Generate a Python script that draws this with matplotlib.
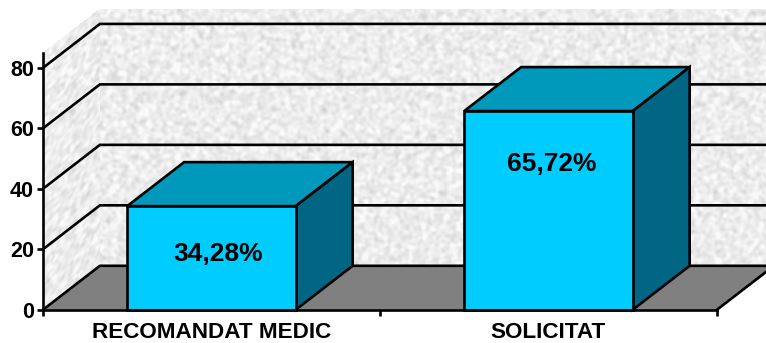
import numpy as np
import matplotlib
matplotlib.use("Agg")
import matplotlib.pyplot as plt
from matplotlib.patches import Polygon

categories = ["RECOMANDAT MEDIC", "SOLICITAT"]
values = [34.28, 65.72]
value_labels = ["34,28%", "65,72%"]
y_ticks = [0, 20, 40, 60, 80]

W, H = 766, 343
L, R, B, T = 42.9, 716.9, 309.8, 52.8
YMAX = 85
plt.rcParams["font.family"] = ["Liberation Sans", "DejaVu Sans"]

fig = plt.figure(figsize=(W / 100, H / 100), dpi=100, facecolor="white")
ax = fig.add_axes([L / W, 1 - B / H, (R - L) / W, (B - T) / H])
ax.set_xlim(0, 2)
ax.set_ylim(0, YMAX)
ax.patch.set_visible(False)

# oblique depth of the pseudo-3D box, in data units
px_x = 2 / (R - L)
px_y = YMAX / (B - T)
DX, DY = 57 * px_x, 44 * px_y
XEND = 2 + 60 * px_x
LW = 1.9
EC = "black"

# mottled wall texture (decoration only, not data)
def texture(h, w, seed):
    rng = np.random.default_rng(seed)
    n = rng.normal(size=(h, w))
    fy = np.fft.fftfreq(h)[:, None]
    fx = np.fft.fftfreq(w)[None, :]
    f = np.exp(-(fx**2 + fy**2) / (2 * 0.10**2)) * (1 - 0.6 * np.exp(-(fx**2 + fy**2) / (2 * 0.025**2)))
    s = np.fft.ifft2(np.fft.fft2(n) * f).real
    s = (s - s.mean()) / s.std()
    return np.clip(236 + 7 * s, 205, 250)

tex = texture(255, 670, 3)
xs = np.linspace(DX, XEND, tex.shape[1] + 1)
ys = np.linspace(DY, YMAX + DY, tex.shape[0] + 1)
ax.pcolormesh(xs, ys, tex, cmap="gray", vmin=0, vmax=255, clip_on=False, zorder=1, rasterized=True)

side = texture(255, 57, 8)
u = np.linspace(0, 1, side.shape[1] + 1)
v = np.linspace(0, YMAX, side.shape[0] + 1)
UU, VV = np.meshgrid(u, v)
ax.pcolormesh(UU * DX, VV + UU * DY, side, cmap="gray", vmin=0, vmax=255, clip_on=False, zorder=1, rasterized=True)

# floor
ax.add_patch(Polygon([(0, 0), (DX, DY), (XEND, DY), (2, 0)], closed=True,
                     fc="#808080", ec="none", clip_on=False, zorder=2))

# grid lines on side and back walls
for t in y_ticks:
    ax.plot([0, DX, XEND], [t, t + DY, t + DY], color=EC, lw=LW, clip_on=False, zorder=3,
            solid_joinstyle="miter", solid_capstyle="butt")
ax.plot([2, 2 + DX], [0, DY], color=EC, lw=LW, clip_on=False, zorder=3)

# bars
BW = 0.5
for i, v_ in enumerate(values):
    x0, x1 = i + 0.5 - BW / 2, i + 0.5 + BW / 2
    kw = dict(closed=True, ec=EC, lw=LW, clip_on=False, zorder=4, joinstyle="miter")
    ax.add_patch(Polygon([(x0, v_), (x1, v_), (x1 + DX, v_ + DY), (x0 + DX, v_ + DY)], fc="#0099BB", **kw))
    ax.add_patch(Polygon([(x1, 0), (x1 + DX, DY), (x1 + DX, v_ + DY), (x1, v_)], fc="#006683", **kw))
    ax.bar(i + 0.5, v_, width=BW, color="#00CCFF", edgecolor=EC, linewidth=LW, zorder=5, clip_on=False)

# value labels (offset from bar top-centre, in pixels)
label_offsets = [(6.5, -48), (3.5, -53)]
for i, (v_, s) in enumerate(zip(values, value_labels)):
    ax.annotate(s, (i + 0.5, v_), xytext=(label_offsets[i][0] * 0.72, label_offsets[i][1] * 0.72),
                textcoords="offset points", ha="center", va="center", fontsize=19,
                fontweight="bold", color="black", zorder=6)

# axes
for s in ("top", "right"):
    ax.spines[s].set_visible(False)
for s in ("left", "bottom"):
    ax.spines[s].set_linewidth(LW)
    ax.spines[s].set_zorder(7)
ax.set_yticks(y_ticks)
ax.set_yticklabels([str(t) for t in y_ticks], fontsize=15.5, fontweight="bold")
ax.set_xticks([0, 1, 2])
ax.set_xticklabels([])
ax.set_xticks([0.5, 1.5], minor=True)
ax.set_xticklabels(categories, minor=True, fontsize=16.2, fontweight="bold")
ax.tick_params(axis="y", length=4.5, width=LW, pad=2)
ax.tick_params(axis="x", which="major", length=4, width=LW)
ax.tick_params(axis="x", which="minor", length=0, pad=8.8)

fig.savefig("out.png", dpi=100)
